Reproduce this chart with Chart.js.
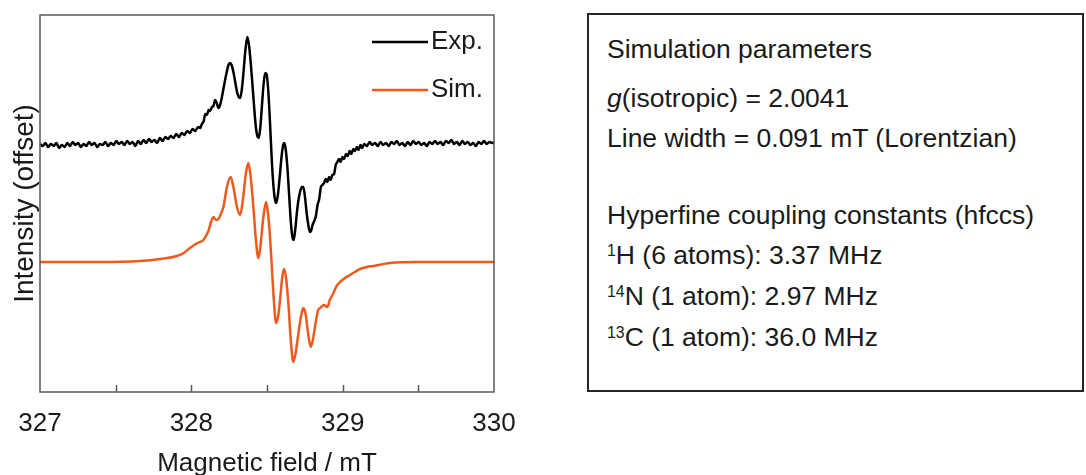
<!DOCTYPE html>
<html>
<head>
<meta charset="utf-8">
<title>EPR spectrum</title>
<script src="https://cdn.jsdelivr.net/npm/chart.js@4.4.0/dist/chart.umd.min.js"></script>
<style>
    html, body { margin: 0; padding: 0; background: #fff; }
    body { width: 1086px; height: 475px; position: relative; overflow: hidden; font-family: "Liberation Sans", Arial, sans-serif; }
    #chartBox { position: absolute; left: 0; top: 0; width: 540px; height: 475px; }
    #params { position: absolute; left: 587px; top: 13px; width: 497px; height: 379px; box-sizing: border-box; border: 2px solid #262626; color: #1a1a1a; font-size: 26.5px; }
    #params div { position: absolute; left: 18px; white-space: nowrap; line-height: 1; }
    #params sup { font-size: 0.6em; vertical-align: 0.5em; line-height: 0; }
</style>
</head>
<body>
<div id="chartBox"><canvas id="eprChart"></canvas></div>
<div id="params">
    <div style="top: 21px;">Simulation parameters</div>
    <div style="top: 70px;"><i>g</i>(isotropic) = 2.0041</div>
    <div style="top: 110px;">Line width = 0.091 mT (Lorentzian)</div>
    <div style="top: 187px;">Hyperfine coupling constants (hfccs)</div>
    <div style="top: 227px;"><sup>1</sup>H (6 atoms): 3.37 MHz</div>
    <div style="top: 268px;"><sup>14</sup>N (1 atom): 2.97 MHz</div>
    <div style="top: 309px;"><sup>13</sup>C (1 atom): 36.0 MHz</div>
</div>
<script>
// series names
const seriesNames = ['Exp.', 'Sim.'];

// x axis (mT)
const fieldMin = 327;
const fieldMax = 330;
const fieldStep = 0.5;

// vertical offsets of the two traces (a.u.)
const expOffset = 247;
const simOffset = 130;
const intensityMin = 0;
const intensityMax = 377;

// experimental spectrum
const expField = [
    327.000, 327.018, 327.036, 327.054, 327.072, 327.090, 327.108, 327.126, 327.144, 327.162,
    327.180, 327.198, 327.216, 327.234, 327.252, 327.270, 327.288, 327.306, 327.324, 327.342,
    327.360, 327.378, 327.396, 327.414, 327.432, 327.450, 327.468, 327.486, 327.504, 327.522,
    327.540, 327.558, 327.576, 327.594, 327.612, 327.630, 327.648, 327.666, 327.684, 327.702,
    327.720, 327.738, 327.756, 327.774, 327.792, 327.810, 327.828, 327.846, 327.864, 327.882,
    327.900, 327.918, 327.936, 327.954, 327.972, 327.990, 328.008, 328.025, 328.046, 328.058,
    328.070, 328.082, 328.092, 328.103, 328.114, 328.124, 328.136, 328.146, 328.157, 328.168,
    328.179, 328.190, 328.201, 328.212, 328.223, 328.234, 328.245, 328.256, 328.266, 328.278,
    328.290, 328.302, 328.313, 328.322, 328.334, 328.346, 328.358, 328.370, 328.381, 328.392,
    328.403, 328.414, 328.425, 328.436, 328.445, 328.455, 328.466, 328.477, 328.488, 328.497,
    328.508, 328.519, 328.530, 328.541, 328.552, 328.561, 328.572, 328.584, 328.596, 328.607,
    328.615, 328.625, 328.636, 328.647, 328.658, 328.668, 328.676, 328.687, 328.698, 328.709,
    328.720, 328.731, 328.740, 328.751, 328.762, 328.773, 328.783, 328.791, 328.801, 328.812,
    328.823, 328.834, 328.845, 328.856, 328.866, 328.877, 328.888, 328.899, 328.910, 328.921,
    328.932, 328.943, 328.954, 328.965, 328.976, 328.987, 328.998, 329.010, 329.022, 329.034,
    329.046, 329.058, 329.070, 329.082, 329.094, 329.106, 329.118, 329.130, 329.142, 329.160,
    329.178, 329.196, 329.214, 329.232, 329.250, 329.268, 329.286, 329.304, 329.322, 329.340,
    329.358, 329.376, 329.394, 329.412, 329.430, 329.448, 329.466, 329.484, 329.502, 329.520,
    329.538, 329.556, 329.574, 329.592, 329.610, 329.628, 329.646, 329.664, 329.682, 329.700,
    329.718, 329.736, 329.754, 329.772, 329.790, 329.808, 329.826, 329.844, 329.862, 329.880,
    329.898, 329.916, 329.934, 329.952, 329.970, 329.988, 330.000
];
const expSignal = [
    1, -1, 2, -2, 1, -1, 2, -3, 0, -2,
    2, -1, 3, 0, 2, -2, 1, -1, 3, 0,
    2, -2, 1, 0, 3, -1, 2, 0, 4, 1,
    3, 0, 4, 1, 3, -1, 4, 1, 5, 2,
    6, 3, 5, 2, 7, 4, 8, 6, 9, 7,
    11, 8, 12, 10, 14, 12, 16, 14, 18, 17,
    21, 24, 31, 30, 35, 34, 38, 39, 45, 42,
    37, 40, 47, 56, 65, 73, 80, 82, 80, 73,
    63, 53, 48, 47, 56, 75, 96, 108, 100, 83,
    62, 40, 20, 9, 7, 16, 38, 60, 72, 71,
    55, 25, -10, -38, -54, -58, -50, -32, -12, 0,
    2, -6, -25, -52, -78, -92, -95, -84, -67, -54,
    -46, -42, -42, -52, -68, -80, -87, -86, -80, -76,
    -71, -60, -54, -42, -40, -38, -34, -37, -32, -35,
    -30, -29, -20, -17, -14, -17, -12, -14, -9, -11,
    -6, -9, -4, -6, -2, -5, 0, -3, 1, -1,
    3, 0, 2, -1, 3, 0, 2, -1, 3, 1,
    4, 0, 2, -1, 3, 0, 4, 1, 3, 0,
    2, -1, 3, 1, 4, 1, 3, 0, 4, 2,
    5, 1, 3, 0, 4, 1, 3, 0, 2, -1,
    3, 1, 4, 1, 3, 2, 3
];

// simulated spectrum
const simField = [
    327.000, 327.400, 327.661, 327.793, 327.903, 327.950, 327.991, 328.040, 328.080, 328.100,
    328.113, 328.130, 328.146, 328.163, 328.179, 328.195, 328.212, 328.235, 328.260, 328.278,
    328.300, 328.322, 328.342, 328.360, 328.377, 328.393, 328.410, 328.428, 328.443, 328.458,
    328.476, 328.494, 328.507, 328.520, 328.532, 328.546, 328.560, 328.574, 328.588, 328.602,
    328.613, 328.626, 328.641, 328.658, 328.674, 328.690, 328.707, 328.724, 328.740, 328.755,
    328.772, 328.789, 328.804, 328.820, 328.838, 328.851, 328.877, 328.899, 328.915, 328.939,
    328.960, 328.983, 329.015, 329.049, 329.080, 329.115, 329.160, 329.203, 329.313, 329.500,
    329.750, 330.000
];
const simSignal = [
    0, 0, 1, 3, 6, 9, 14, 19, 22, 27,
    31, 40, 45, 42, 43, 48, 55, 75, 85, 75,
    56, 47, 64, 88, 99, 84, 55, 20, 4, 18,
    45, 60, 48, 25, -5, -40, -61, -54, -35, -14,
    -7, -16, -41, -80, -100, -90, -72, -55, -46, -52,
    -72, -85, -77, -62, -48, -46, -43, -45, -38, -31,
    -24, -20, -16, -13, -10, -7, -5, -4, -1, 0,
    0, 0
];

const seriesColors = ['#000000', '#ee5a1e'];

const toPoints = (xs, ys, offset) => xs.map((x, i) => ({ x: x, y: ys[i] + offset }));

// cadre du graphique, petites graduations internes et légende dans la zone
const framePlugin = {
    id: 'frame',
    afterDraw(chart) {
        const { ctx, chartArea } = chart;
        const xScale = chart.scales.x;
        ctx.save();
        ctx.strokeStyle = '#595959';
        ctx.lineWidth = 1.5;
        ctx.strokeRect(chartArea.left, chartArea.top, chartArea.right - chartArea.left, chartArea.bottom - chartArea.top);

        ctx.beginPath();
        xScale.ticks.forEach(t => {
            if (t.value <= fieldMin || t.value >= fieldMax) return;
            const px = Math.round(xScale.getPixelForValue(t.value)) + 0.5;
            ctx.moveTo(px, chartArea.bottom);
            ctx.lineTo(px, chartArea.bottom - 7);
        });
        ctx.stroke();

        // légende
        ctx.font = '26px "Liberation Sans", Arial, sans-serif';
        ctx.textBaseline = 'middle';
        ctx.textAlign = 'left';
        const lx = chartArea.right - 122;
        chart.data.datasets.forEach((ds, i) => {
            const ly = chartArea.top + 27 + i * 48;
            ctx.strokeStyle = ds.borderColor;
            ctx.lineWidth = 2.5;
            ctx.beginPath();
            ctx.moveTo(lx, ly);
            ctx.lineTo(lx + 56, ly);
            ctx.stroke();
            ctx.fillStyle = '#1a1a1a';
            ctx.fillText(ds.label, lx + 59, ly);
        });
        ctx.restore();
    }
};

Chart.defaults.font.family = '"Liberation Sans", Arial, sans-serif';
Chart.defaults.color = '#1a1a1a';

const ctx = document.getElementById('eprChart').getContext('2d');
new Chart(ctx, {
    type: 'line',
    data: {
        datasets: [{
            label: seriesNames[0],
            data: toPoints(expField, expSignal, expOffset),
            borderColor: seriesColors[0],
            borderWidth: 2.5,
            pointRadius: 0,
            cubicInterpolationMode: 'monotone',
            fill: false
        }, {
            label: seriesNames[1],
            data: toPoints(simField, simSignal, simOffset),
            borderColor: seriesColors[1],
            borderWidth: 2.5,
            pointRadius: 0,
            cubicInterpolationMode: 'monotone',
            fill: false
        }]
    },
    options: {
        responsive: true,
        maintainAspectRatio: false,
        animation: false,
        layout: { padding: { top: 15, right: 46, left: 0, bottom: 0 } },
        plugins: {
            legend: { display: false },
            tooltip: { enabled: false }
        },
        scales: {
            x: {
                type: 'linear',
                min: fieldMin,
                max: fieldMax,
                afterFit: s => { s.height = 83; },
                grid: { display: false, drawTicks: false },
                border: { display: false },
                ticks: {
                    stepSize: fieldStep,
                    autoSkip: false,
                    maxRotation: 0,
                    padding: 16,
                    font: { size: 26 },
                    color: '#1a1a1a',
                    callback: v => Number.isInteger(v) ? String(v) : ''
                },
                title: {
                    display: true,
                    text: 'Magnetic field / mT',
                    font: { size: 26, lineHeight: 1 },
                    color: '#1a1a1a',
                    padding: { top: 0, bottom: -2 }
                }
            },
            y: {
                type: 'linear',
                min: intensityMin,
                max: intensityMax,
                afterFit: s => { s.width = 40; },
                grid: { display: false, drawTicks: false },
                border: { display: false },
                ticks: { display: false },
                title: {
                    display: true,
                    text: 'Intensity (offset)',
                    font: { size: 28 },
                    color: '#1a1a1a',
                    padding: { top: 8, bottom: 0 }
                }
            }
        }
    },
    plugins: [framePlugin]
});
</script>
</body>
</html>
